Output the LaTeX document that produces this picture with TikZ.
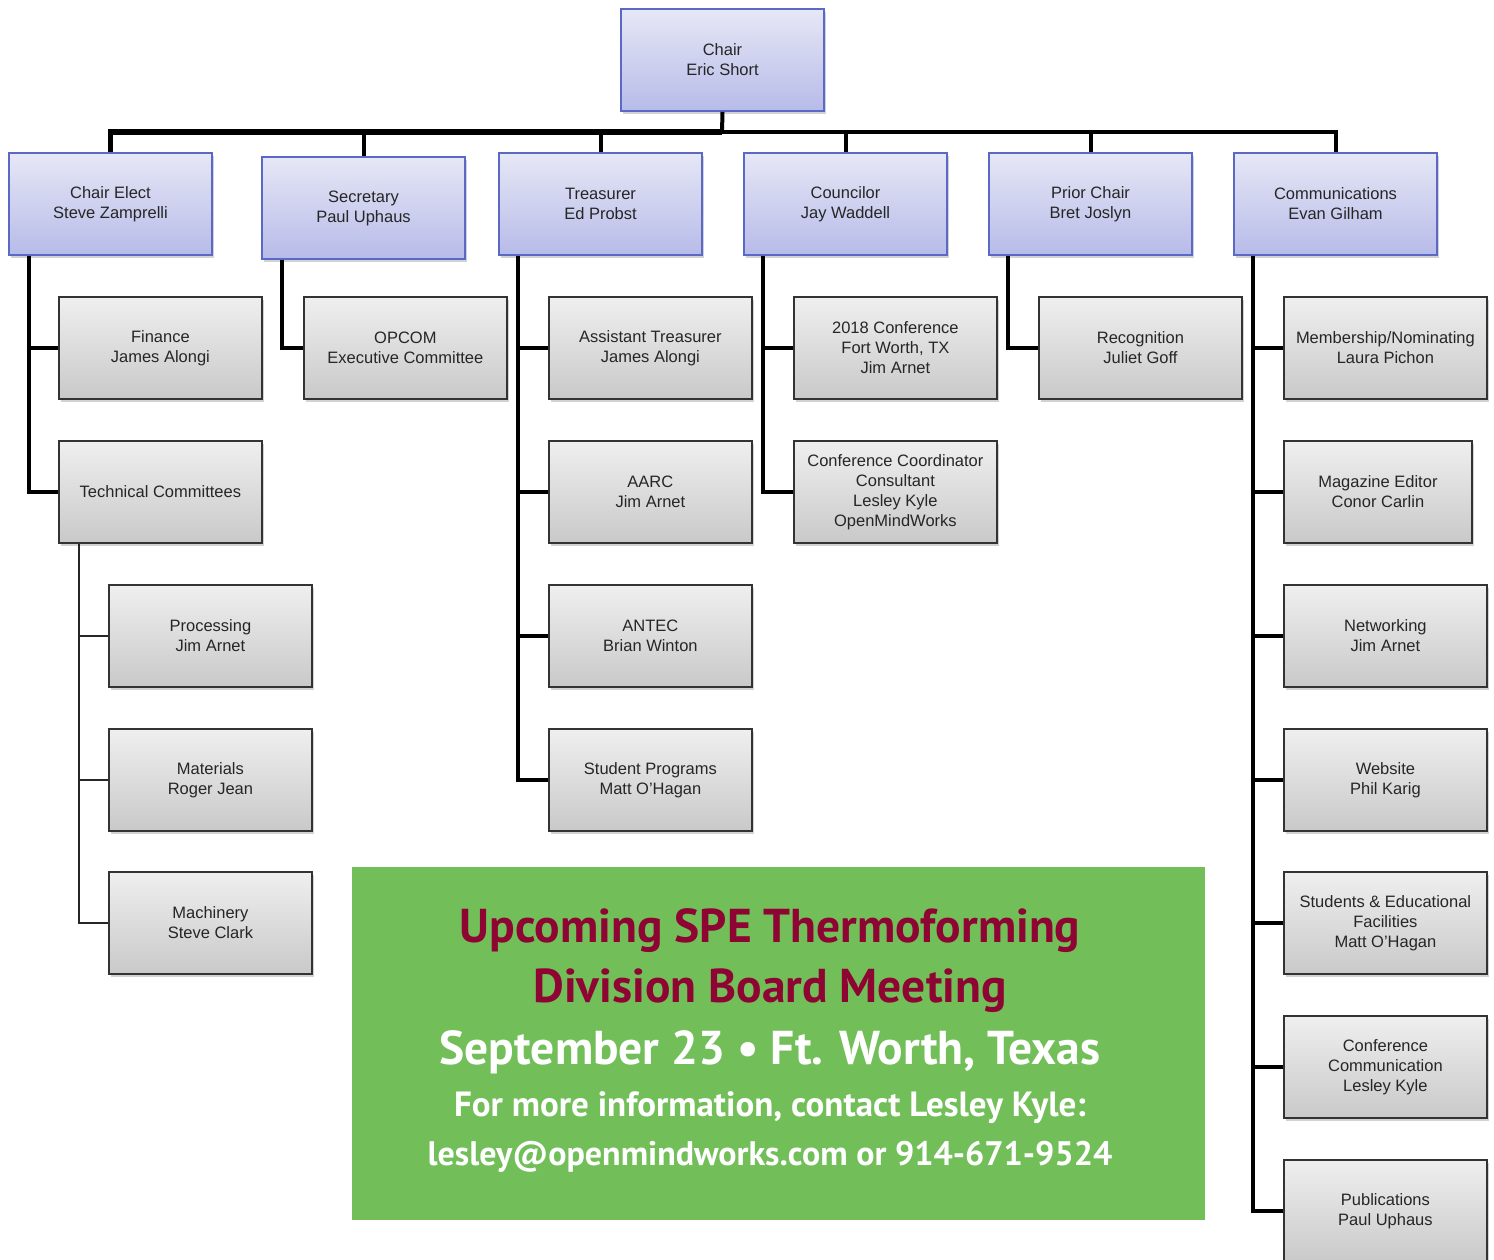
\documentclass[tikz,border=0pt]{standalone}
\usepackage{fontspec}
\setmainfont{Liberation Sans}
\newfontfamily\bannerfont{PT Sans}
\usetikzlibrary{shadows}
\definecolor{bluefillA}{HTML}{E6E7F6}
\definecolor{bluefillB}{HTML}{B7BBE8}
\definecolor{blueedge}{HTML}{5B68C6}
\definecolor{grayA}{HTML}{EFEFEF}
\definecolor{grayB}{HTML}{C9C9C9}
\definecolor{txtgray}{HTML}{262626}
\definecolor{bannergreen}{HTML}{72BF5A}
\definecolor{bannerred}{HTML}{8E0534}
\begin{document}
\begin{tikzpicture}[x=1pt,y=-1pt,
  boxbase/.style={anchor=north west, minimum width=203pt, minimum height=102pt,
    inner sep=2pt, align=center, text=txtgray,
    font=\fontsize{16.5}{20}\selectfont,
    drop shadow={opacity=0.35, shadow xshift=2pt, shadow yshift=-3pt}},
  bluebox/.style={boxbase, draw=blueedge, line width=2pt, top color=bluefillA, bottom color=bluefillB},
  graybox/.style={boxbase, draw=black!80, line width=1.8pt, top color=grayA, bottom color=grayB},
  conn/.style={line width=4pt, black},
  thinconn/.style={line width=2pt, black!85},
  banner/.style={anchor=base}
]
\useasboundingbox (0,0) rectangle (1494,1260);
\fill[white] (0,0) rectangle (1494,1260);

% ---- top
\node[bluebox] (chair) at (620,8) {Chair\\Eric Short};
\node[bluebox] (ce) at (8,152) {Chair Elect\\Steve Zamprelli};
\node[bluebox] (sec) at (261,156) {Secretary\\Paul Uphaus};
\node[bluebox] (tre) at (498,152) {Treasurer\\Ed Probst};
\node[bluebox] (cou) at (743,152) {Councilor\\Jay Waddell};
\node[bluebox] (pc) at (988,152) {Prior Chair\\Bret Joslyn};
\node[bluebox] (com) at (1233,152) {Communications\\Evan Gilham};

% ---- chair elect children
\node[graybox] (fin) at (58,296) {Finance\\James Alongi};
\node[graybox] (tc) at (58,440) {Technical Committees};
\node[graybox] (proc) at (108,584) {Processing\\Jim Arnet};
\node[graybox] (mat) at (108,728) {Materials\\Roger Jean};
\node[graybox] (mach) at (108,871) {Machinery\\Steve Clark};

% ---- secretary
\node[graybox] (opcom) at (303,296) {OPCOM\\Executive Committee};

% ---- treasurer
\node[graybox] (at) at (548,296) {Assistant Treasurer\\James Alongi};
\node[graybox] (aarc) at (548,440) {AARC\\Jim Arnet};
\node[graybox] (antec) at (548,584) {ANTEC\\Brian Winton};
\node[graybox] (sp) at (548,728) {Student Programs\\Matt O'Hagan};

% ---- councilor
\node[graybox] (conf) at (793,296) {2018 Conference\\Fort Worth, TX\\Jim Arnet};
\node[graybox] (cc) at (793,440) {Conference Coordinator\\Consultant\\Lesley Kyle\\OpenMindWorks};

% ---- prior chair
\node[graybox] (rec) at (1038,296) {Recognition\\Juliet Goff};

% ---- communications
\node[graybox] (mem) at (1283,296) {Membership/Nominating\\Laura Pichon};
\node[graybox, minimum width=188pt] (mag) at (1283,440) {Magazine Editor\\Conor Carlin};
\node[graybox] (net) at (1283,584) {Networking\\Jim Arnet};
\node[graybox] (web) at (1283,728) {Website\\Phil Karig};
\node[graybox] (sef) at (1283,871) {Students \& Educational\\Facilities\\Matt O'Hagan};
\node[graybox] (ccom) at (1283,1015) {Conference\\Communication\\Lesley Kyle};
\node[graybox] (pub) at (1283,1159) {Publications\\Paul Uphaus};

% ---- bus
\coordinate (bus) at (722,132);
\draw[line width=4pt] (chair.south) -- (bus);
\draw[line width=5.5pt] (bus) -| (ce.north);
\draw[conn] (bus) -| (sec.north);
\draw[conn] (bus) -| (tre.north);
\draw[conn] (bus) -| (cou.north);
\draw[conn] (bus) -| (pc.north);
\draw[conn] (bus) -| (com.north);

% ---- branch connectors
\draw[conn] ([xshift=21pt]ce.south west) |- (fin.west);
\draw[conn] ([xshift=21pt]ce.south west) |- (tc.west);
\draw[thinconn] ([xshift=21pt]tc.south west) |- (proc.west);
\draw[thinconn] ([xshift=21pt]tc.south west) |- (mat.west);
\draw[thinconn] ([xshift=21pt]tc.south west) |- (mach.west);
\draw[conn] ([xshift=21pt]sec.south west) |- (opcom.west);
\draw[conn] ([xshift=20pt]tre.south west) |- (at.west);
\draw[conn] ([xshift=20pt]tre.south west) |- (aarc.west);
\draw[conn] ([xshift=20pt]tre.south west) |- (antec.west);
\draw[conn] ([xshift=20pt]tre.south west) |- (sp.west);
\draw[conn] ([xshift=20pt]cou.south west) |- (conf.west);
\draw[conn] ([xshift=20pt]cou.south west) |- (cc.west);
\draw[conn] ([xshift=20pt]pc.south west) |- (rec.west);
\draw[conn] ([xshift=20pt]com.south west) |- (mem.west);
\draw[conn] ([xshift=20pt]com.south west) |- (mag.west);
\draw[conn] ([xshift=20pt]com.south west) |- (net.west);
\draw[conn] ([xshift=20pt]com.south west) |- (web.west);
\draw[conn] ([xshift=20pt]com.south west) |- (sef.west);
\draw[conn] ([xshift=20pt]com.south west) |- (ccom.west);
\draw[conn] ([xshift=20pt]com.south west) |- (pub.west);

% ---- banner
\node[fill=bannergreen, anchor=north west, minimum width=853pt, minimum height=353pt, inner sep=0pt] (ban) at (352,867) {};
\node[banner, text=bannerred, font=\bannerfont\bfseries\fontsize{47.5}{54}\selectfont] (b1) at (770,942) {Upcoming SPE Thermoforming};
\node[banner, text=bannerred, font=\bannerfont\bfseries\fontsize{47.5}{54}\selectfont] (b2) at (770,1002) {Division Board Meeting};
\node[banner, text=white, font=\bannerfont\bfseries\fontsize{47.5}{54}\selectfont] (b3) at (770,1064) {September 23 • Ft. Worth, Texas};
\node[banner, text=white, font=\bannerfont\bfseries\fontsize{35}{40}\selectfont] (b4) at (770,1116) {For more information, contact Lesley Kyle:};
\node[banner, text=white, font=\bannerfont\bfseries\fontsize{34}{40}\selectfont] (b5) at (770,1165) {lesley@openmindworks.com or 914-671-9524};
\end{tikzpicture}
\end{document}
